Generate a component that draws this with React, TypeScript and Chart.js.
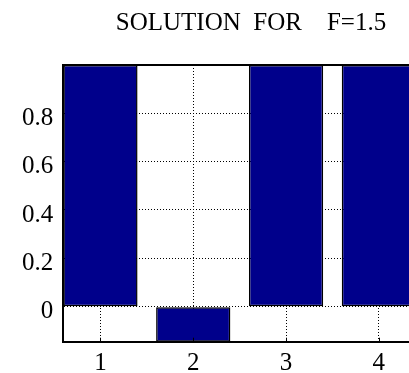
import { useEffect, useRef } from 'react';
import { Chart, registerables } from 'chart.js';

Chart.register(...registerables);

const TITLE = 'SOLUTION  FOR    F=1.5';
const categories = [1, 2, 3, 4];
const values = [1, -0.145, 1, 1];
const yTicks = [0, 0.2, 0.4, 0.6, 0.8];
const X_MIN = 0.6;
const X_MAX = 4.4;
const Y_MIN = -0.145;
const Y_MAX = 1;

const BAR_COLOR = '#00008b';
const FONT_FAMILY = '"Liberation Serif", "Times New Roman", serif';

const frame = {
  id: 'frame',
  afterDatasetsDraw(chart: any) {
    const { ctx, chartArea } = chart;
    const x = chart.scales.x;
    ctx.save();
    ctx.strokeStyle = '#000';
    ctx.lineWidth = 2;
    ctx.beginPath();
    ctx.moveTo(chartArea.left - 1, chartArea.top);
    ctx.lineTo(chartArea.right, chartArea.top);
    ctx.stroke();
    ctx.lineWidth = 1;
    categories.forEach((c) => {
      const px = Math.round(x.getPixelForValue(c)) + 0.5;
      ctx.beginPath();
      ctx.moveTo(px, chartArea.bottom);
      ctx.lineTo(px, chartArea.bottom - 4);
      ctx.stroke();
    });
    ctx.restore();
  },
  afterDraw(chart: any) {
    const { ctx } = chart;
    ctx.save();
    ctx.fillStyle = '#000';
    ctx.font = `normal 25px ${FONT_FAMILY}`;
    ctx.textAlign = 'center';
    ctx.textBaseline = 'alphabetic';
    ctx.fillText(TITLE, 251, 30);
    ctx.restore();
  },
};

export default function App() {
  const ref = useRef<HTMLCanvasElement>(null);
  useEffect(() => {
    const chart = new Chart(ref.current as HTMLCanvasElement, {
      type: 'bar',
      data: {
        datasets: [
          {
            data: categories.map((c, i) => ({ x: c, y: values[i] })),
            backgroundColor: BAR_COLOR,
            borderColor: '#000',
            borderWidth: 1.5,
            borderSkipped: false,
            barPercentage: 0.8,
            categoryPercentage: 1,
          } as any,
        ],
      },
      options: {
        responsive: false,
        animation: false,
        devicePixelRatio: 1,
        layout: { padding: { left: 0, right: 84, top: 65, bottom: 0 } },
        plugins: {
          legend: { display: false },
          tooltip: { enabled: false },
          title: { display: false },
        },
        scales: {
          x: {
            type: 'linear',
            offset: false,
            min: X_MIN,
            max: X_MAX,
            afterBuildTicks: (s: any) => {
              s.ticks = categories.map((v) => ({ value: v }));
            },
            afterFit: (s: any) => {
              s.height = 31.3;
            },
            ticks: {
              callback: (v: any) => String(v),
              color: '#000',
              font: { family: FONT_FAMILY, size: 25 },
              padding: 7,
              maxRotation: 0,
              autoSkip: false,
            },
            grid: { color: '#000', lineWidth: 1, drawTicks: false, offset: false },
            border: { color: '#000', width: 2, dash: [1, 2] },
          },
          y: {
            min: Y_MIN,
            max: Y_MAX,
            afterBuildTicks: (s: any) => {
              s.ticks = yTicks.map((v) => ({ value: v }));
            },
            afterFit: (s: any) => {
              s.width = 63.3;
            },
            ticks: {
              callback: (v: any) => String(v),
              color: '#000',
              font: { family: FONT_FAMILY, size: 25 },
              padding: 10,
              labelOffset: 5,
              autoSkip: false,
            },
            grid: { color: '#000', lineWidth: 1, drawTicks: false },
            border: { color: '#000', width: 2, dash: [1, 2] },
          },
        },
      },
      plugins: [frame],
    });
    return () => chart.destroy();
  }, []);
  return (
    <div
      style={{
        position: 'fixed',
        left: 0,
        top: 0,
        width: 409,
        height: 373,
        overflow: 'hidden',
        background: '#fff',
      }}
    >
      <canvas ref={ref} width={500} height={373} style={{ display: 'block', width: 500, height: 373 }} />
    </div>
  );
}
